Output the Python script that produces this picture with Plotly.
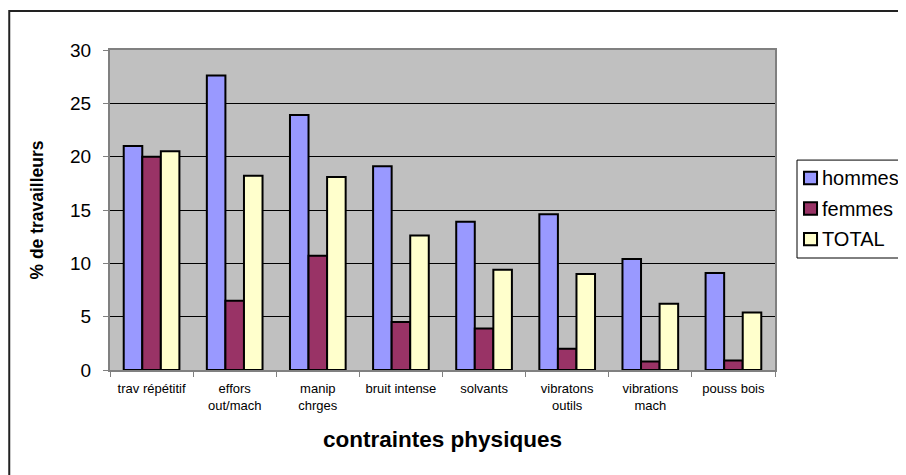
import plotly.graph_objects as go

CATEGORIES = [
    "trav répétitif", "effors<br>out/mach", "manip<br>chrges", "bruit intense",
    "solvants", "vibratons<br>outils", "vibrations<br>mach", "pouss bois",
]
HOMMES = [21.0, 27.6, 23.9, 19.1, 13.9, 14.6, 10.4, 9.1]
FEMMES = [20.0, 6.5, 10.7, 4.5, 3.9, 2.0, 0.8, 0.9]
TOTAL = [20.5, 18.2, 18.1, 12.6, 9.4, 9.0, 6.2, 5.4]

SERIES = [
    ("hommes", HOMMES, "#9999FF"),
    ("femmes", FEMMES, "#993366"),
    ("TOTAL", TOTAL, "#FFFFCC"),
]

FONT = "Liberation Sans, Arial, sans-serif"

fig = go.Figure()
for name, vals, color in SERIES:
    fig.add_trace(go.Bar(
        x=CATEGORIES, y=vals, name=name,
        marker=dict(color=color, line=dict(color="black", width=2)),
    ))

# outer chart frame (runs off the right/bottom of the picture)
shapes = [dict(
    type="path", xref="paper", yref="paper",
    path="M -0.1515 -0.5 L -0.1515 1.122 L 1.5 1.122",
    line=dict(color="#222222", width=2),
)]
# legend box drawn by hand: plotly's own legend would push the right margin
shapes.append(dict(
    type="rect", xref="paper", yref="paper",
    x0=1.0331, x1=1.5, y0=0.35, y1=0.656,
    line=dict(color="black", width=1), fillcolor="white",
))
annotations = []
for i, (name, _, color) in enumerate(SERIES):
    yc = 0.6 - i * 0.0955
    shapes.append(dict(
        type="rect", xref="paper", yref="paper",
        x0=1.0436, x1=1.0632, y0=yc - 0.0195, y1=yc + 0.0195,
        line=dict(color="black", width=2), fillcolor=color,
    ))
    annotations.append(dict(
        text=name, xref="paper", yref="paper", x=1.068, y=yc,
        xanchor="left", yanchor="middle", showarrow=False,
        font=dict(size=20, family=FONT, color="black"),
    ))

# page body has an 8px margin, so the figure is a bit smaller than the window
fig.update_layout(
    width=898, height=467,
    margin=dict(l=102, r=131, t=42, b=105),
    paper_bgcolor="white", plot_bgcolor="#C0C0C0",
    font=dict(family=FONT, size=16, color="black"),
    barmode="group", bargap=0.33, bargroupgap=0,
    showlegend=False,
    xaxis=dict(
        tickfont=dict(size=13), tickson="boundaries", ticks="outside",
        ticklen=5, tickcolor="#808080", showline=True, linecolor="#808080",
        linewidth=2, mirror=True, showgrid=False, ticklabelstandoff=5,
        title=dict(text="<b>contraintes physiques</b>", font=dict(size=22.5), standoff=20),
    ),
    yaxis=dict(
        range=[0, 30], dtick=5, tickfont=dict(size=19), ticks="outside",
        ticklen=5, tickcolor="#808080", showline=True, linecolor="#808080",
        linewidth=2, mirror=True, gridcolor="black", gridwidth=1, zeroline=False,
        ticklabelstandoff=8,
        title=dict(text="<b>% de travailleurs</b>", font=dict(size=17.5), standoff=22),
    ),
    shapes=shapes,
    annotations=annotations,
)

fig.write_html("out.html")
